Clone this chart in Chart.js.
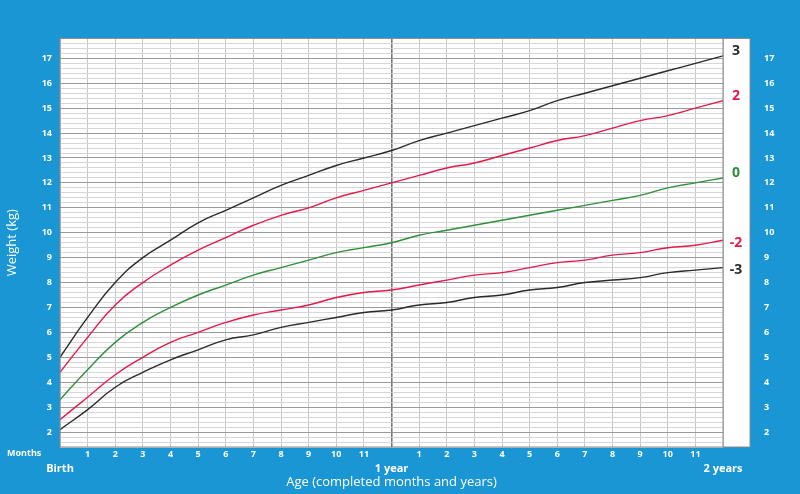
<!DOCTYPE html>
<html><head><meta charset="utf-8">
<script src="https://cdn.jsdelivr.net/npm/chart.js@4"></script>
<style>body{margin:0;background:#1996d3}#wrap{width:800px;height:494px}</style>
</head><body><div id="wrap"><canvas id="c"></canvas></div>
<script>
const months = [0,1,2,3,4,5,6,7,8,9,10,11,12,13,14,15,16,17,18,19,20,21,22,23,24];
const zm3 = [2.1,2.9,3.8,4.4,4.9,5.3,5.7,5.9,6.2,6.4,6.6,6.8,6.9,7.1,7.2,7.4,7.5,7.7,7.8,8.0,8.1,8.2,8.4,8.5,8.6];
const zm2 = [2.5,3.4,4.3,5.0,5.6,6.0,6.4,6.7,6.9,7.1,7.4,7.6,7.7,7.9,8.1,8.3,8.4,8.6,8.8,8.9,9.1,9.2,9.4,9.5,9.7];
const z0 = [3.3,4.5,5.6,6.4,7.0,7.5,7.9,8.3,8.6,8.9,9.2,9.4,9.6,9.9,10.1,10.3,10.5,10.7,10.9,11.1,11.3,11.5,11.8,12.0,12.2];
const zp2 = [4.4,5.8,7.1,8.0,8.7,9.3,9.8,10.3,10.7,11.0,11.4,11.7,12.0,12.3,12.6,12.8,13.1,13.4,13.7,13.9,14.2,14.5,14.7,15.0,15.3];
const zp3 = [5.0,6.6,8.0,9.0,9.7,10.4,10.9,11.4,11.9,12.3,12.7,13.0,13.3,13.7,14.0,14.3,14.6,14.9,15.3,15.6,15.9,16.2,16.5,16.8,17.1];
const lineLabels = ["3","2","0","-2","-3"];
const BLACK = "#2b2b2b", RED = "#e5194b", GREEN = "#2f8f3a";

function pts(arr) { return arr.map((v, i) => ({x: months[i], y: v})); }
function ds(arr, color) {
    return {data: pts(arr), borderColor: color, borderWidth: 1.4, pointRadius: 0, tension: 0.5, fill: false};
}
const isInt = v => Math.abs(v - Math.round(v)) < 1e-6;

const sidePlugin = {
    id: "side",
    beforeDraw(chart) {
        const {ctx, chartArea: a} = chart;
        ctx.save();
        ctx.fillStyle = "#fff";
        ctx.fillRect(a.left, a.top, a.right - a.left + 27, a.bottom - a.top);
        ctx.restore();
    },
    afterDraw(chart) {
        const {ctx, chartArea: a, scales} = chart;
        ctx.save();
        ctx.strokeStyle = "#888"; ctx.lineWidth = 1;
        ctx.strokeRect(a.left, a.top, a.right - a.left + 27, a.bottom - a.top);
        ctx.beginPath(); ctx.moveTo(a.right, a.top); ctx.lineTo(a.right, a.bottom); ctx.stroke();
        ctx.font = "bold 14px 'Open Sans'";
        ctx.textAlign = "center"; ctx.textBaseline = "middle";
        const ends = [zp3, zp2, z0, zm2, zm3], cols = [BLACK, RED, GREEN, RED, BLACK];
        ends.forEach((arr, i) => {
            ctx.fillStyle = cols[i];
            const off = i < 3 ? -0.2 : 0.1;
            ctx.fillText(lineLabels[i], a.right + 13, scales.y.getPixelForValue(arr[arr.length - 1] - off));
        });
        ctx.fillStyle = "#fff";
        ctx.font = "bold 9px 'Open Sans'";
        ctx.textAlign = "left";
        ctx.fillText("Months", 7, a.bottom + 6);
        ctx.restore();
    }
};

new Chart(document.getElementById("c"), {
    type: "line",
    data: {datasets: [ds(zp3, BLACK), ds(zp2, RED), ds(z0, GREEN), ds(zm2, RED), ds(zm3, BLACK)]},
    options: {
        responsive: true, maintainAspectRatio: false, animation: false,
        layout: {padding: {top: 22, right: 0, bottom: 4, left: 0}},
        plugins: {legend: {display: false}, tooltip: {enabled: false}},
        scales: {
            x: {
                type: "linear", min: 0, max: 24,
                afterFit: s => { s.height = 43; },
                ticks: {
                    stepSize: 1, autoSkip: false, maxRotation: 0, color: "#fff", padding: 2,
                    font: c => ({size: [0, 12, 24].includes(c.tick && c.tick.value) ? 11 : 9, weight: "bold", family: "'Open Sans'"}),
                    callback: v => v === 0 ? ["", "Birth"] : v === 12 ? ["", "1 year"] : v === 24 ? ["", "2 years"] : String(v % 12)
                },
                grid: {
                    color: c => c.tick && c.tick.value === 12 ? "#777" : "#c8c8c8",
                    lineWidth: c => c.tick && c.tick.value === 12 ? 1.6 : 1,
                    drawTicks: false
                },
                border: {display: false},
                title: {display: true, text: "Age (completed months and years)", color: "#fff", padding: 0,
                        font: {size: 13, family: "'Open Sans'"}}
            },
            y: {
                min: 1.4, max: 17.8,
                afterFit: s => { s.width = 60; },
                ticks: {stepSize: 0.2, autoSkip: false, color: "#fff", padding: 8, font: {size: 9, weight: "bold", family: "'Open Sans'"},
                        callback: v => isInt(v) ? String(Math.round(v)) : ""},
                grid: {color: c => c.tick && isInt(c.tick.value) ? "#9a9a9a" : "#d6d6d6", drawTicks: false},
                border: {display: false},
                title: {display: true, text: "Weight (kg)", color: "#fff", font: {size: 13, family: "'Open Sans'"}}
            },
            y2: {
                position: "right", min: 1.4, max: 17.8,
                afterFit: s => { s.width = 77; },
                ticks: {stepSize: 0.2, autoSkip: false, padding: 33, color: "#fff", font: {size: 9, weight: "bold", family: "'Open Sans'"},
                        callback: v => isInt(v) ? String(Math.round(v)) : ""},
                grid: {display: false}, border: {display: false}
            }
        }
    },
    plugins: [sidePlugin]
});
</script></body></html>
